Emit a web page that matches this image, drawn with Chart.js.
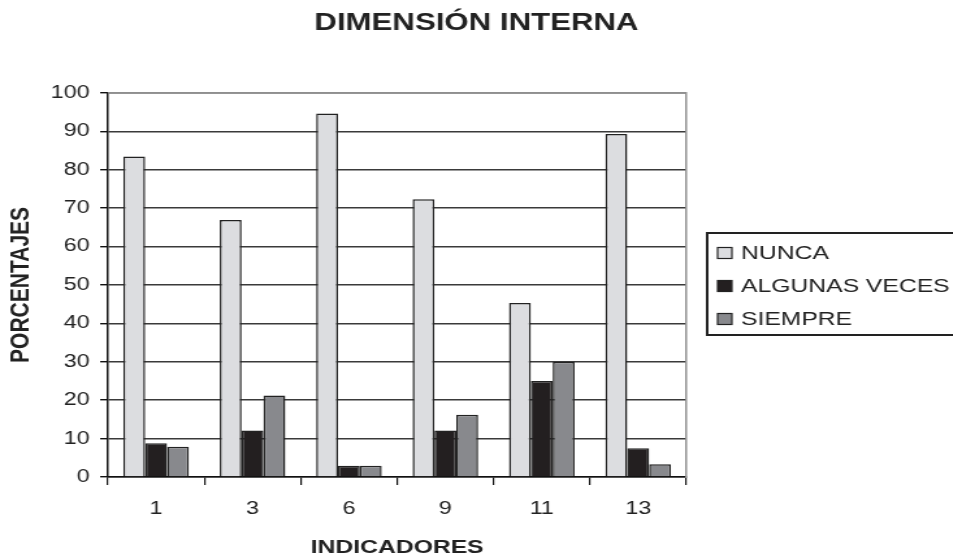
<!DOCTYPE html>
<html>
<head>
<meta charset="utf-8">
<script src="https://cdn.jsdelivr.net/npm/chart.js@4.4.1/dist/chart.umd.min.js"></script>
<style>
  html, body { margin: 0; padding: 0; background: #fff; overflow: hidden; }
  /* the reference is stretched sideways, so the chart is drawn narrow and widened */
  #wrap { width: 733px; height: 553px; transform: scaleX(1.3); transform-origin: 0 0; }
</style>
</head>
<body>
<div id="wrap"><canvas id="chart"></canvas></div>
<script>
  // Values
  var indicadores = ['1', '3', '6', '9', '11', '13'];
  var nunca = [83.4, 66.9, 94.6, 72.3, 45.3, 89.3];
  var algunasVeces = [8.8, 12.1, 2.9, 12.1, 25.0, 7.5];
  var siempre = [7.9, 21.2, 2.9, 16.2, 30.0, 3.3];
  var seriesNames = ['NUNCA', 'ALGUNAS VECES', 'SIEMPRE'];
  var seriesColors = ['#dcdde0', '#231f20', '#88898d'];

  var fontFamily = "'Liberation Sans', Arial, sans-serif";

  // gray line along the top of the plot
  var framePlugin = {
    id: 'frame',
    beforeDatasetsDraw: function(chart) {
      var a = chart.chartArea;
      var ctx = chart.ctx;
      ctx.save();
      ctx.strokeStyle = '#8f8f8f';
      ctx.lineWidth = 1.5;
      ctx.beginPath();
      ctx.moveTo(a.left, a.top);
      ctx.lineTo(a.right, a.top);
      ctx.stroke();
      ctx.restore();
    }
  };

  // boxed legend on the right, running off the edge like the original
  var boxLegend = {
    id: 'boxLegend',
    afterDraw: function(chart) {
      var ctx = chart.ctx;
      var x = chart.chartArea.right + 16;
      var top = 233;
      ctx.save();
      ctx.strokeStyle = '#222';
      ctx.lineWidth = 2;
      ctx.strokeRect(x, top, 220, 102);
      ctx.font = '19px ' + fontFamily;
      ctx.textBaseline = 'middle';
      chart.data.datasets.forEach(function(ds, i) {
        var cy = top + 20 + i * 33;
        ctx.fillStyle = ds.backgroundColor;
        ctx.fillRect(x + 8, cy - 5.5, 11, 11);
        ctx.lineWidth = 1.2;
        ctx.strokeStyle = '#222';
        ctx.strokeRect(x + 8, cy - 5.5, 11, 11);
        ctx.fillStyle = '#222';
        ctx.fillText(ds.label, x + 26, cy + 1);
      });
      ctx.restore();
    }
  };

  var ctx = document.getElementById('chart').getContext('2d');
  var chart = new Chart(ctx, {
    type: 'bar',
    data: {
      labels: indicadores,
      datasets: [
        { label: seriesNames[0], data: nunca, backgroundColor: seriesColors[0] },
        { label: seriesNames[1], data: algunasVeces, backgroundColor: seriesColors[1] },
        { label: seriesNames[2], data: siempre, backgroundColor: seriesColors[2] }
      ].map(function(ds) {
        ds.borderColor = '#222';
        ds.borderWidth = 1.5;
        ds.barPercentage = 1;
        ds.categoryPercentage = 0.68;
        return ds;
      })
    },
    options: {
      responsive: true,
      maintainAspectRatio: false,
      animation: false,
      plugins: {
        legend: { display: false },
        tooltip: { enabled: false },
        title: {
          display: true,
          text: 'DIMENSIÓN INTERNA',
          color: '#222',
          font: { family: fontFamily, size: 24, weight: 'bold' },
          padding: { top: 9, bottom: 55 }
        }
      },
      scales: {
        x: {
          afterFit: function(scale) { scale.height = 76; },
          border: { display: true, color: '#111', width: 1.5 },
          grid: {
            offset: true,
            drawOnChartArea: false,
            drawTicks: true,
            tickLength: 8,
            color: '#111',
            lineWidth: 1.2
          },
          ticks: {
            color: '#222',
            padding: 13,
            font: { family: fontFamily, size: 18 }
          },
          title: {
            display: true,
            text: 'INDICADORES',
            color: '#222',
            font: { family: fontFamily, size: 19, weight: 'bold' },
            padding: { top: 0, bottom: -6 }
          }
        },
        y: {
          min: 0,
          max: 100,
          afterFit: function(scale) { scale.width = 83; },
          border: { display: true, color: '#111', width: 1.5 },
          grid: {
            color: '#3a3a3a',
            lineWidth: 1.4,
            drawTicks: true,
            tickLength: 6,
            tickColor: '#111'
          },
          ticks: {
            stepSize: 10,
            color: '#222',
            padding: 8,
            font: { family: fontFamily, size: 18 }
          },
          title: {
            display: true,
            text: 'PORCENTAJES',
            color: '#222',
            font: { family: fontFamily, size: 21, weight: 'bold' },
            padding: { top: 4, bottom: 0 }
          }
        },
        // empty right axis: gives the plot its right edge and keeps room for the legend
        frameRight: {
          position: 'right',
          min: 0,
          max: 100,
          afterFit: function(scale) { scale.width = 205; },
          border: { display: true, color: '#8f8f8f', width: 1.5 },
          grid: { drawOnChartArea: false, drawTicks: false },
          ticks: { display: false }
        }
      }
    },
    plugins: [framePlugin, boxLegend]
  });
</script>
</body>
</html>
